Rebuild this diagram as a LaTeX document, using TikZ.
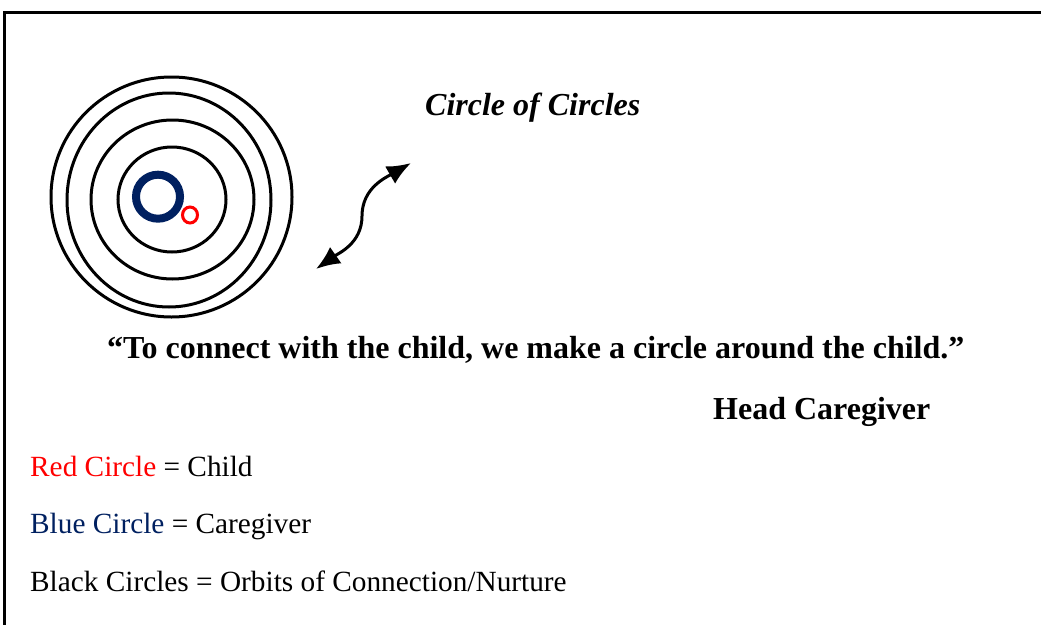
\documentclass[tikz,border=0pt]{standalone}
\usepackage{fontspec}
\setmainfont{Liberation Serif}
\usetikzlibrary{arrows.meta}
\definecolor{navy}{HTML}{002060}
\definecolor{pured}{HTML}{FF0000}
\begin{document}
\begin{tikzpicture}[x=1pt,y=-1pt,
  orbit/.style={draw=black,line width=3pt},
  txt/.style={anchor=base west,inner sep=0pt,font=\fontsize{29.3}{33}\selectfont},
  btxt/.style={anchor=base west,inner sep=0pt,font=\fontsize{32}{36}\selectfont\bfseries}]
\useasboundingbox (0,0) rectangle (1041,624);
\draw[line width=2.6pt] (4.5,12.5) rectangle (1060,650);
% orbits
\draw[orbit] (171.5,197) ellipse [x radius=120.5,y radius=120];
\draw[orbit] (169,200) ellipse [x radius=102,y radius=107];
\draw[orbit] (172.5,199.5) ellipse [x radius=81.5,y radius=79.5];
\draw[orbit] (172,199.5) ellipse [x radius=54,y radius=52.5];
% caregiver and child
\draw[navy,line width=8pt] (158,196.7) ellipse [x radius=22,y radius=22];
\draw[pured,line width=3pt] (190,215) ellipse [x radius=7.5,y radius=8];
% arrow
\coordinate (lo) at (316,269);
\coordinate (mid) at (362,216);
\coordinate (hi) at (411,163);
\draw[line width=3pt,{Latex[length=24pt,width=20pt]}-{Latex[length=24pt,width=20pt]}]
  (lo) to[out=35,in=-90] (mid) to[out=90,in=210] (hi);
% texts
\node[btxt,font=\fontsize{32}{36}\selectfont\bfseries\itshape] (title) at (425,115) {Circle of Circles};
\node[btxt] (quote) at (107,358) {“To connect with the child, we make a circle around the child.”};
\node[btxt] (head) at (713,419) {Head Caregiver};
\node[txt] (l1) at (30,476.7) {\textcolor{pured}{Red Circle} = Child};
\node[txt] (l2) at (30,533.5) {\textcolor{navy}{Blue Circle} = Caregiver};
\node[txt] (l3) at (30,591.5) {Black Circles = Orbits of Connection/Nurture};
\end{tikzpicture}
\end{document}
